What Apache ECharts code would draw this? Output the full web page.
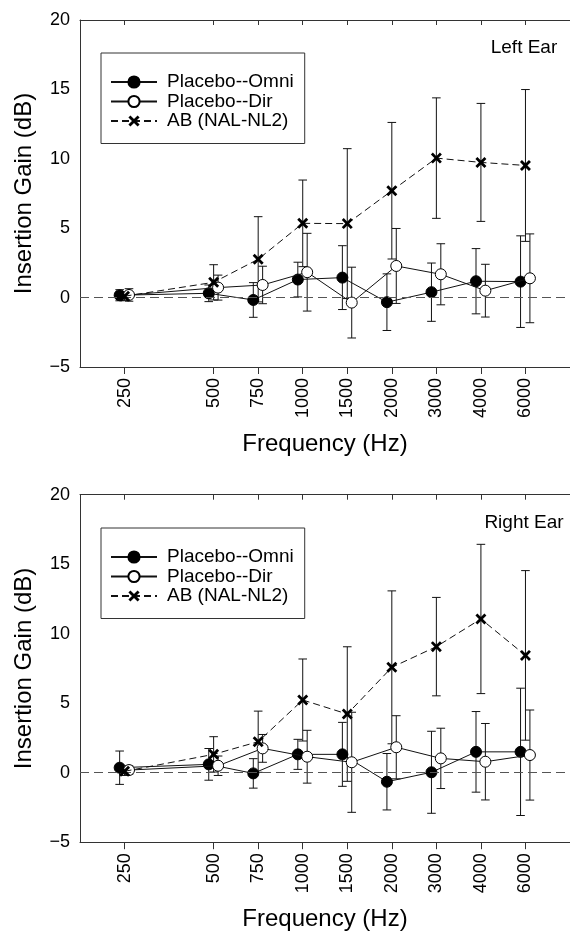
<!DOCTYPE html>
<html><head><meta charset="utf-8">
<script src="https://cdn.jsdelivr.net/npm/echarts@6/dist/echarts.min.js"></script>
<style>html,body{margin:0;padding:0;background:#fff}#c{width:570px;height:935px}</style>
</head><body><div id="c"></div>
<script>
// ---------- data ----------
const freqLabels = ['250', '500', '750', '1000', '1500', '2000', '3000', '4000', '6000'];
const seriesNames = ['Placebo--Omni', 'Placebo--Dir', 'AB (NAL-NL2)'];
const panelTitles = ['Left Ear', 'Right Ear'];
const yTickValues = [-5, 0, 5, 10, 15, 20];

// Left ear: means and SDs (dB)
const leftOmni    = [0.17, 0.31, -0.17, 1.30, 1.44, -0.33, 0.39, 1.18, 1.15];
const leftOmniSD  = [0.40, 0.60, 1.25, 1.25, 2.30, 2.04, 2.10, 2.35, 3.30];
const leftDir     = [0.19, 0.72, 0.91, 1.83, -0.36, 2.28, 1.68, 0.50, 1.39];
const leftDirSD   = [0.45, 0.90, 1.35, 2.80, 2.55, 2.70, 2.20, 1.90, 3.20];
const leftAB      = [0.10, 1.10, 2.76, 5.35, 5.33, 7.70, 10.05, 9.74, 9.52];
const leftABSD    = [0.30, 1.27, 3.07, 3.12, 5.40, 4.92, 4.34, 4.25, 5.47];

// Right ear
const rightOmni   = [0.36, 0.60, -0.05, 1.32, 1.32, -0.65, 0.03, 1.50, 1.50];
const rightOmniSD = [1.20, 1.14, 1.06, 1.08, 2.30, 2.03, 2.95, 2.90, 4.58];
const rightDir    = [0.19, 0.50, 1.75, 1.15, 0.75, 1.83, 1.03, 0.79, 1.27];
const rightDirSD  = [0.30, 0.70, 1.00, 1.90, 3.60, 2.27, 2.17, 2.75, 3.24];
const rightAB     = [0.10, 1.32, 2.23, 5.23, 4.22, 7.58, 9.07, 11.06, 8.44];
const rightABSD   = [0.30, 1.27, 2.20, 2.95, 4.84, 5.50, 3.54, 5.37, 6.10];

// ---------- scale helpers ----------
// 250 Hz sits one empty slot before 500 Hz; the rest are evenly spaced.
function slot(i) { return i === 0 ? 0 : i + 1; }
const slots = freqLabels.map((_, i) => slot(i));
function labelAt(v) { const k = slots.indexOf(Math.round(v)); return (k >= 0 && Math.abs(v - slots[k]) < 1e-6) ? freqLabels[k] : ''; }

const FONT = '"Liberation Sans", Arial, Helvetica, sans-serif';
const INK = '#111';
const AXIS = '#333';
const X_PATH = 'path://M0,1.8L1.8,0L5,3.2L8.2,0L10,1.8L6.8,5L10,8.2L8.2,10L5,6.8L1.8,10L0,8.2L3.2,5Z';
const OFFSET = [-0.11, 0.10, 0];

const panels = [
  { vals: [leftOmni, leftDir, leftAB], sds: [leftOmniSD, leftDirSD, leftABSD] },
  { vals: [rightOmni, rightDir, rightAB], sds: [rightOmniSD, rightDirSD, rightABSD] }
];

const grids = [
  { left: 80, top: 20, width: 500, height: 347 },
  { left: 80, top: 494.7, width: 500, height: 347.5 }
];

const xAxes = [], yAxes = [], series = [], legends = [], graphics = [];

panels.forEach((p, gi) => {
  xAxes.push({
    type: 'value', gridIndex: gi, position: 'bottom', min: -1, max: 10,
    name: 'Frequency (Hz)', nameLocation: 'middle', nameGap: 65,
    nameTextStyle: { fontSize: 24, color: '#000', fontFamily: FONT },
    axisLine: { show: true, onZero: false, lineStyle: { color: AXIS, width: 1 } },
    axisTick: { show: true, length: 7, customValues: slots, lineStyle: { color: AXIS } },
    axisLabel: { show: true, rotate: 90, margin: 11, fontSize: 18, color: '#000', fontFamily: FONT,
      customValues: slots, formatter: v => labelAt(v) },
    splitLine: { show: false }
  });
  xAxes.push({
    type: 'value', gridIndex: gi, position: 'top', min: -1, max: 10,
    axisLine: { show: true, onZero: false, lineStyle: { color: AXIS, width: 1 } },
    axisTick: { show: true, inside: true, length: 5, customValues: slots, lineStyle: { color: AXIS } },
    axisLabel: { show: false },
    splitLine: { show: false }
  });
  yAxes.push({
    type: 'value', gridIndex: gi, min: -5, max: 20, interval: 5, position: 'left',
    name: 'Insertion Gain (dB)', nameLocation: 'middle', nameGap: 44,
    nameTextStyle: { fontSize: 24, color: '#000', fontFamily: FONT },
    axisLine: { show: true, onZero: false, lineStyle: { color: AXIS, width: 1 } },
    axisTick: { show: false },
    axisLabel: { margin: 10, fontSize: 18, color: '#000', fontFamily: FONT,
      formatter: v => (v < 0 ? '\u2212' + Math.abs(v) : String(v)) },
    splitLine: { show: false }
  });

  const xi = gi * 2;
  // error bars
  p.vals.forEach((vals, si) => {
    const sds = p.sds[si];
    series.push({
      type: 'custom', xAxisIndex: xi, yAxisIndex: gi, silent: true, z: 1,
      data: vals.map((v, i) => [slot(i) + OFFSET[si], v - sds[i], v + sds[i]]),
      encode: { x: 0, y: [1, 2] },
      renderItem(params, api) {
        const x = api.value(0);
        const lo = api.coord([x, api.value(1)]);
        const hi = api.coord([x, api.value(2)]);
        const w = 4.3;
        const st = { stroke: INK, lineWidth: 1 };
        return { type: 'group', children: [
          { type: 'line', shape: { x1: lo[0], y1: lo[1], x2: hi[0], y2: hi[1] }, style: st },
          { type: 'line', shape: { x1: lo[0] - w, y1: lo[1], x2: lo[0] + w, y2: lo[1] }, style: st },
          { type: 'line', shape: { x1: hi[0] - w, y1: hi[1], x2: hi[0] + w, y2: hi[1] }, style: st }
        ] };
      }
    });
  });
  // lines + markers
  const styles = [
    { symbol: 'circle', symbolSize: 11, itemStyle: { color: '#000', borderColor: '#000', borderWidth: 1 },
      lineStyle: { color: INK, width: 1, type: 'solid' } },
    { symbol: 'circle', symbolSize: 11, itemStyle: { color: '#fff', borderColor: '#000', borderWidth: 1 },
      lineStyle: { color: INK, width: 1, type: 'solid' } },
    { symbol: X_PATH, symbolSize: 11, itemStyle: { color: '#000' },
      lineStyle: { color: INK, width: 1, type: [7, 4] } }
  ];
  p.vals.forEach((vals, si) => {
    const s = Object.assign({
      type: 'line', name: seriesNames[si], xAxisIndex: xi, yAxisIndex: gi, z: 3 + si,
      showSymbol: true, showAllSymbol: true,
      data: vals.map((v, i) => [slot(i) + OFFSET[si], v])
    }, styles[si]);
    if (si === 0) {
      s.markLine = { silent: true, symbol: 'none', animation: false,
        label: { show: false },
        lineStyle: { color: '#555', width: 1, type: [9, 5] },
        data: [{ yAxis: 0 }] };
    }
    series.push(s);
  });

  legends.push({
    orient: 'vertical', left: 101, top: [53, 528][gi],
    data: seriesNames, itemWidth: 46, itemHeight: 14, itemGap: 0.5,
    padding: [19.5, 11, 13, 9],
    borderColor: '#333', borderWidth: 1, backgroundColor: '#fff',
    selectedMode: false,
    textStyle: { fontSize: 19, lineHeight: 17, color: '#000', fontFamily: FONT, padding: [0, 0, 0, 5] }
  });

  graphics.push({
    type: 'text', x: 524, y: [48, 523][gi], silent: true,
    style: { text: panelTitles[gi], fill: '#000', font: '19px ' + FONT, textAlign: 'center', textVerticalAlign: 'middle' }
  });
});

const chart = echarts.init(document.getElementById('c'), null, { renderer: 'canvas' });
chart.setOption({
  animation: false,
  backgroundColor: '#fff',
  grid: grids,
  xAxis: xAxes,
  yAxis: yAxes,
  legend: legends,
  graphic: graphics,
  series: series
});
</script>
</body></html>
